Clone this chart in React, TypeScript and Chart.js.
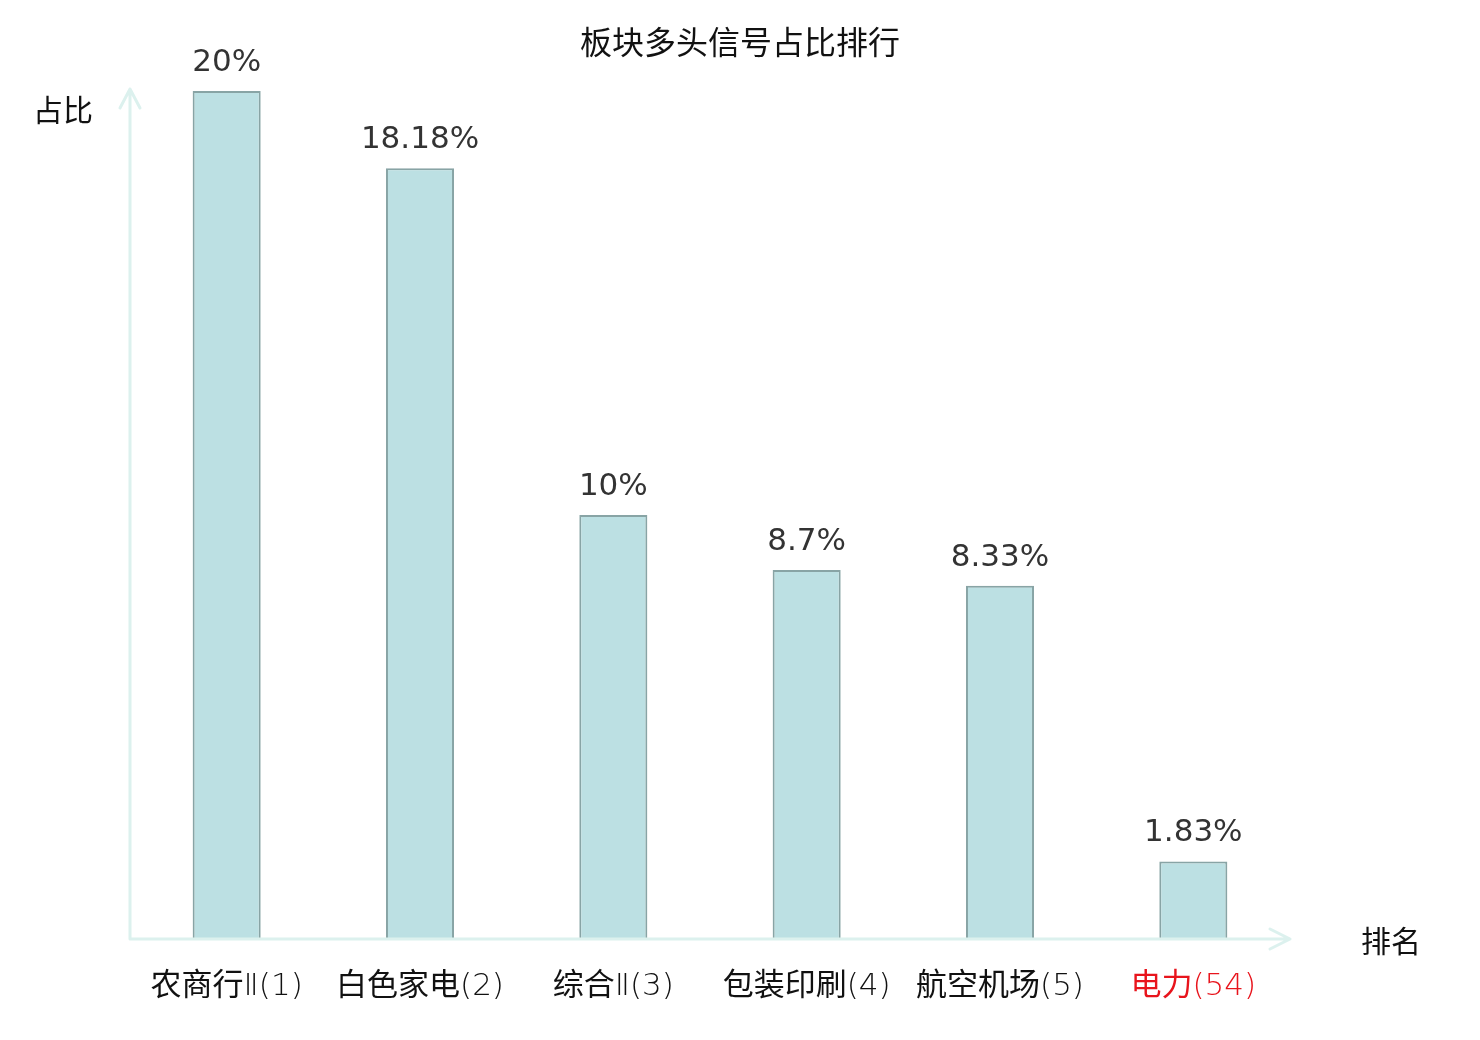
import Chart, { ChartConfiguration, Plugin } from 'chart.js/auto';
import React, { useEffect, useRef } from 'react';

const categories = ['农商行Ⅱ(1)', '白色家电(2)', '综合Ⅱ(3)', '包装印刷(4)', '航空机场(5)', '电力(54)'];
const shares = [20, 18.18, 10, 8.7, 8.33, 1.83];
const highlightIndex = 5;

const AXIS_COLOR = '#dcf1ee';
const CJK = '"Noto Sans CJK SC", "DejaVu Sans", sans-serif';
const CJK_FONT = '31px ' + CJK;
const LATIN_FONT = '200 31px "DejaVu Sans", sans-serif';

// axes with arrows, titles, value labels, category labels
const decorations: Plugin = {
  id: 'decorations',
  afterDatasetsDraw(chart) {
    const { ctx, chartArea } = chart;
    const { left, right, top, bottom } = chartArea;
    ctx.save();

    ctx.strokeStyle = AXIS_COLOR;
    ctx.lineWidth = 3;
    ctx.lineCap = 'round';
    ctx.lineJoin = 'round';
    ctx.beginPath();
    ctx.moveTo(left, bottom);
    ctx.lineTo(left, top - 2);
    ctx.moveTo(left - 10, top + 17);
    ctx.lineTo(left, top - 2);
    ctx.lineTo(left + 10, top + 17);
    ctx.moveTo(left, bottom);
    ctx.lineTo(right, bottom);
    ctx.moveTo(right - 20, bottom - 10);
    ctx.lineTo(right, bottom);
    ctx.lineTo(right - 20, bottom + 10);
    ctx.stroke();

    ctx.textAlign = 'center';
    ctx.textBaseline = 'middle';
    ctx.fillStyle = '#111';
    ctx.font = '32px ' + CJK;
    ctx.fillText('板块多头信号占比排行', chart.width / 2, 42);
    ctx.font = '30px ' + CJK;
    ctx.fillText('占比', 63, 110);
    ctx.fillText('排名', 1391, 941);

    ctx.fillStyle = '#333';
    ctx.font = '31px "DejaVu Sans", sans-serif';
    const meta = chart.getDatasetMeta(0);
    meta.data.forEach((bar, i) => {
      ctx.fillText(`${shares[i]}%`, bar.x, bar.y - 28);
    });

    // category labels: CJK part regular, the rest thin
    const xScale = chart.scales.x;
    ctx.textAlign = 'left';
    ctx.textBaseline = 'alphabetic';
    const baseY = bottom + 56;
    categories.forEach((label, i) => {
      const m = label.match(/^([\u4e00-\u9fff]+)(.*)$/);
      const head = m ? m[1] : label;
      const tail = m ? m[2] : '';
      ctx.font = CJK_FONT;
      const wHead = ctx.measureText(head).width;
      ctx.font = LATIN_FONT;
      const wTail = ctx.measureText(tail).width;
      const cx = xScale.getPixelForValue(i);
      const x0 = cx - (wHead + wTail) / 2;
      ctx.fillStyle = i === highlightIndex ? '#e8141c' : '#111';
      ctx.font = CJK_FONT;
      ctx.fillText(head, x0, baseY);
      ctx.font = LATIN_FONT;
      ctx.fillText(tail, x0 + wHead, baseY);
    });
    ctx.restore();
  },
};

const App: React.FC = () => {
  const chartRef = useRef<HTMLCanvasElement>(null);

  useEffect(() => {
    document.body.style.margin = '0';
    if (!chartRef.current) return;
    const ctx = chartRef.current.getContext('2d');
    if (!ctx) return;

    const config: ChartConfiguration = {
      type: 'bar',
      data: {
        labels: categories,
        datasets: [
          {
            data: shares,
            backgroundColor: '#bce0e3',
            borderColor: '#88a4a5',
            borderWidth: 2,
            categoryPercentage: 1,
            barPercentage: 0.352,
          },
        ],
      },
      options: {
        responsive: false,
        animation: false,
        layout: {
          padding: { left: 130, right: 190, top: 91, bottom: 101 },
        },
        plugins: {
          legend: { display: false },
          tooltip: { enabled: false },
        },
        scales: {
          x: {
            display: false,
          },
          y: {
            display: false,
            min: 0,
            max: 20,
          },
        },
      },
      plugins: [decorations],
    };

    const chart = new Chart(ctx, config);
    return () => {
      chart.destroy();
    };
  }, []);

  return <canvas ref={chartRef} width={1480} height={1040} style={{ display: 'block' }} />;
};

export default App;
